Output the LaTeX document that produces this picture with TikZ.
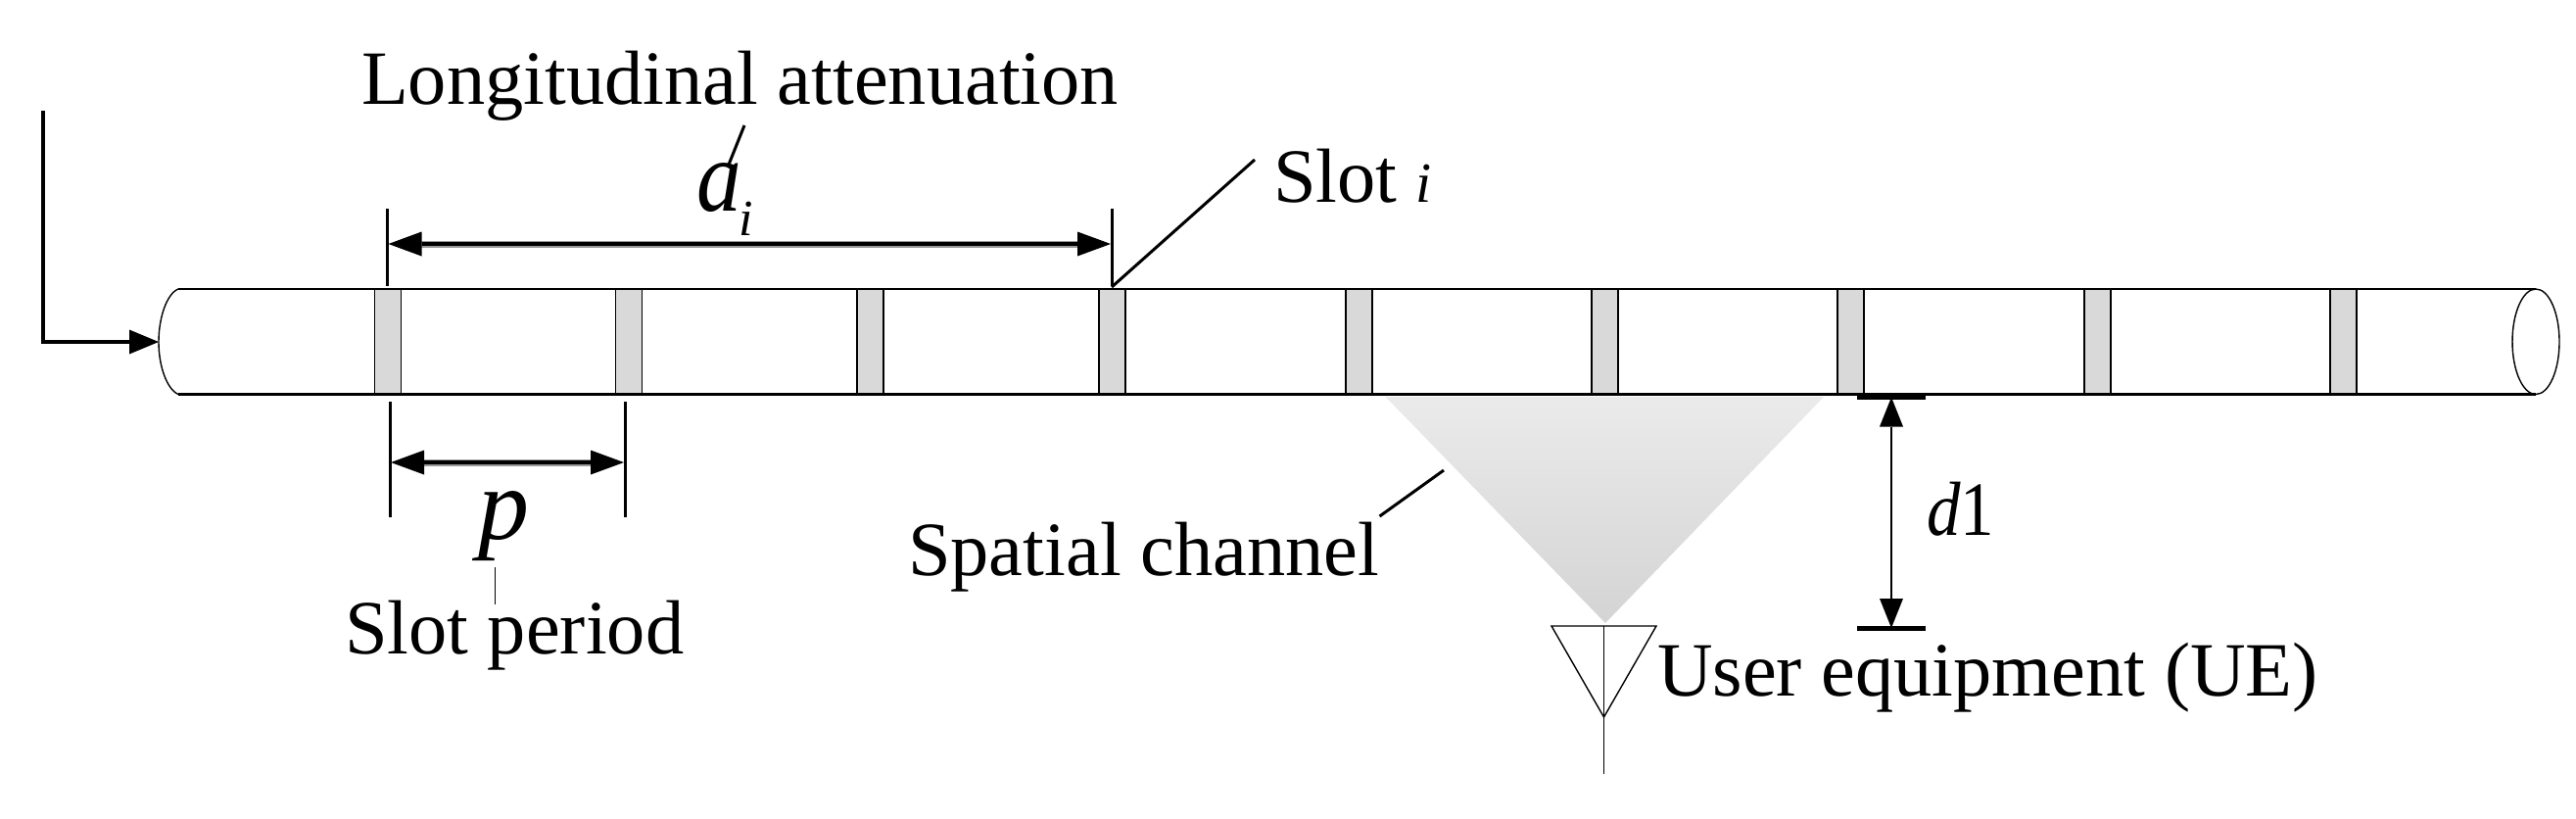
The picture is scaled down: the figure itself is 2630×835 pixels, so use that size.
\documentclass[tikz,border=0pt]{standalone}
\usepackage{fontspec}
\setmainfont{Liberation Serif}
\usetikzlibrary{arrows.meta}
\tikzset{
  x=1pt,y=-1pt,
  txt/.style={inner sep=0pt,outer sep=0pt,anchor=base west,font=\fontsize{78.4}{80}\selectfont},
  mathtxt/.style={inner sep=0pt,outer sep=0pt,anchor=base west,font=\fontsize{104}{110}\selectfont\itshape},
  slotbox/.style={draw=black,line width=1.5pt,fill=black!15,minimum width=27pt,minimum height=106pt,inner sep=0pt,outer sep=0pt},
  tubeline/.style={draw=black,line width=2.8pt},
  thinline/.style={draw=black,line width=1.4pt},
  tick/.style={draw=black,line width=3pt},
  leader/.style={draw=black,line width=3pt},
  halo/.style={draw=black!40,line width=7pt},
  dim/.style={draw=black,line width=3.5pt,{Triangle[length=34pt,width=25pt,line width=0pt]}-{Triangle[length=34pt,width=25pt,line width=0pt]},shorten <=1pt,shorten >=1pt},
  dimv/.style={draw=black,line width=2.4pt,{Triangle[length=30pt,width=24pt,line width=0pt]}-{Triangle[length=30pt,width=24pt,line width=0pt]}},
  bar/.style={draw=black,line width=5pt},
  feed/.style={draw=black,line width=3.4pt,-{Triangle[length=30pt,width=25pt,line width=0pt]}},
}
\begin{document}
\begin{tikzpicture}
\useasboundingbox (0,0) rectangle (2630,835);
% tube
\coordinate (tl) at (182,295); \coordinate (tr) at (2589,295);
\coordinate (bl) at (182,402.5); \coordinate (br) at (2589,402.5);
\coordinate (capl) at (162,349);
\node[slotbox] (s1) at (396,348.5) {};
\node[slotbox] (s2) at (642,348.5) {};
\node[slotbox] (s3) at (888.5,348.5) {};
\node[slotbox] (s4) at (1135.5,348.5) {};
\node[slotbox] (s5) at (1387.5,348.5) {};
\node[slotbox] (s6) at (1638.5,348.5) {};
\node[slotbox] (s7) at (1889.5,348.5) {};
\node[slotbox] (s8) at (2141.5,348.5) {};
\node[slotbox] (s9) at (2392.5,348.5) {};
\draw[tubeline] (tl) -- (tr);
\draw[tubeline] (bl) -- (br);
\draw[thinline] (tl) .. controls (170,300) and (162,325) .. (capl) .. controls (162,373) and (170,397) .. (bl);
\draw[thinline] (2589,348.75) ellipse [x radius=24,y radius=53.75];
% feed
\coordinate (f0) at (44,113); \coordinate (f1) at (44,349);
\draw[feed] (f0) -- (f1) -- (capl);
% spatial channel
\shade[top color=black!8,middle color=black!15,bottom color=black!17] (1414.5,405) -- (1862,405) -- (1639,636) -- cycle;
% a_i dimension
\coordinate (a1t) at (395.5,213); \coordinate (a1b) at (395.5,292);
\coordinate (a2t) at (1135,213); \coordinate (a2b) at (1135,292);
\coordinate (a1) at (395.5,249); \coordinate (a2) at (1135,249);
\draw[tick] (a1t) -- (a1b);
\draw[tick] (a2t) -- (a2b);
\draw[halo] (430,249) -- (1100,249);
\draw[dim] (a1) -- (a2);
% p dimension
\coordinate (p1t) at (398,410); \coordinate (p1b) at (398,528);
\coordinate (p2t) at (638,410); \coordinate (p2b) at (638,528);
\coordinate (p1) at (398,472); \coordinate (p2) at (638,472);
\draw[tick] (p1t) -- (p1b);
\draw[tick] (p2t) -- (p2b);
\draw[halo] (430,472) -- (605,472);
\draw[dim] (p1) -- (p2);
% d1 dimension
\coordinate (d1l) at (1896,405.5); \coordinate (d1r) at (1966,405.5);
\coordinate (d2l) at (1896,641); \coordinate (d2r) at (1966,641);
\coordinate (d1) at (1931,405.5); \coordinate (d2) at (1931,641);
\draw[bar] (d1l) -- (d1r);
\draw[bar] (d2l) -- (d2r);
\draw[dimv] (d1) -- (d2);
% antenna
\coordinate (ua) at (1584,639); \coordinate (ub) at (1691,639);
\coordinate (utop) at (1637.5,639); \coordinate (utip) at (1637.5,732); \coordinate (uend) at (1637.5,790);
\draw[thinline] (ua) -- (ub) -- (utip) -- cycle;
\draw[thinline] (utop) -- (uend);
% texts
\node[txt] (long) at (369,106) {Longitudinal attenuation};
\node[mathtxt,xscale=.88] (a) at (711,215) {a};
\node[txt,font=\fontsize{52}{54}\selectfont\itshape] (i) at (754,240) {i};
\node[txt] (sloti) at (1300,206) {Slot \textit{\fontsize{58}{60}\selectfont i}};
\node[mathtxt] (p) at (488,550) {p};
\node[txt] (period) at (352,667) {Slot period};
\node[txt] (spatial) at (927,587) {Spatial channel};
\node[txt] (ue) at (1692,710) {User equipment (UE)};
\node[txt,xscale=.88] (d) at (1967,546) {\textit{d}1};
% leaders
\coordinate (l1a) at (760,128); \coordinate (l1b) at (744,168);
\draw[leader] (l1a) -- (l1b);
\coordinate (l2a) at (1135,293); \coordinate (l2b) at (1281,163);
\draw[leader] (l2a) -- (l2b);
\coordinate (l3a) at (505.6,579); \coordinate (l3b) at (505.6,617);
\draw[thinline] (l3a) -- (l3b);
\coordinate (l4a) at (1474,480); \coordinate (l4b) at (1408.5,527);
\draw[leader] (l4a) -- (l4b);
\end{tikzpicture}
\end{document}
